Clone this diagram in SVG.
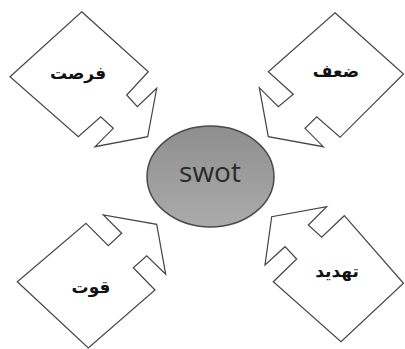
<svg xmlns="http://www.w3.org/2000/svg" width="405" height="349" viewBox="0 0 405 349">
<defs>
<linearGradient id="g" x1="0" y1="0" x2="0" y2="1">
<stop offset="0" stop-color="#8e8e8e"/>
<stop offset="1" stop-color="#ababab"/>
</linearGradient>
<style>
.arr{fill:#fff;stroke:#444;stroke-width:1.2;stroke-linejoin:miter}
.lbl{font-family:"DejaVu Sans","Noto Sans",sans-serif;font-weight:bold;font-size:17px;fill:#111;text-anchor:middle}
</style>
</defs>
<rect width="405" height="349" fill="#fff"/>
<g id="connectors"></g>
<g id="node-forsat">
<polygon class="arr" points="81.7,11.7 148.3,71.7 126.7,95 137.3,106.7 156.7,88.3 147.7,136.7 95,146.7 113.3,128.3 100.7,116.7 78.3,136.7 10,76.7"/>
<text class="lbl" x="78" y="79">فرصت</text>
</g>
<g id="node-zaf">
<polygon class="arr" points="335,12.7 403.5,74 340,137.3 316.7,116.7 305,128.3 323.3,146.7 268.3,136.7 259.3,87.7 278.3,106.7 293.3,94.3 268.3,71.7"/>
<text class="lbl" x="336" y="77">ضعف</text>
</g>
<g id="node-ghovat">
<polygon class="arr" points="86,223.3 108.3,245.7 121.7,233.3 103.3,215 156.7,224.3 165.7,274.3 146.7,255.7 133.3,267.7 155,290 88.3,348 17.3,281.7"/>
<text class="lbl" x="91" y="293">قوت</text>
</g>
<g id="node-tahdid">
<polygon class="arr" points="273.3,281.7 296.7,259 285,246.7 265,265 271.7,216.7 326.7,206.7 308.3,225 321.7,237.3 344.3,215.7 403.5,283.3 341,341.7"/>
<text class="lbl" x="337" y="277">تهدید</text>
</g>
<g id="node-swot">
<ellipse cx="210.5" cy="176.5" rx="63.5" ry="50.5" fill="url(#g)" stroke="#4a4a4a" stroke-width="1.5"/>
<text x="210" y="182" font-family="Open Sans, sans-serif" font-size="28" fill="#2a2a2a" text-anchor="middle">swot</text>
</g>
</svg>
